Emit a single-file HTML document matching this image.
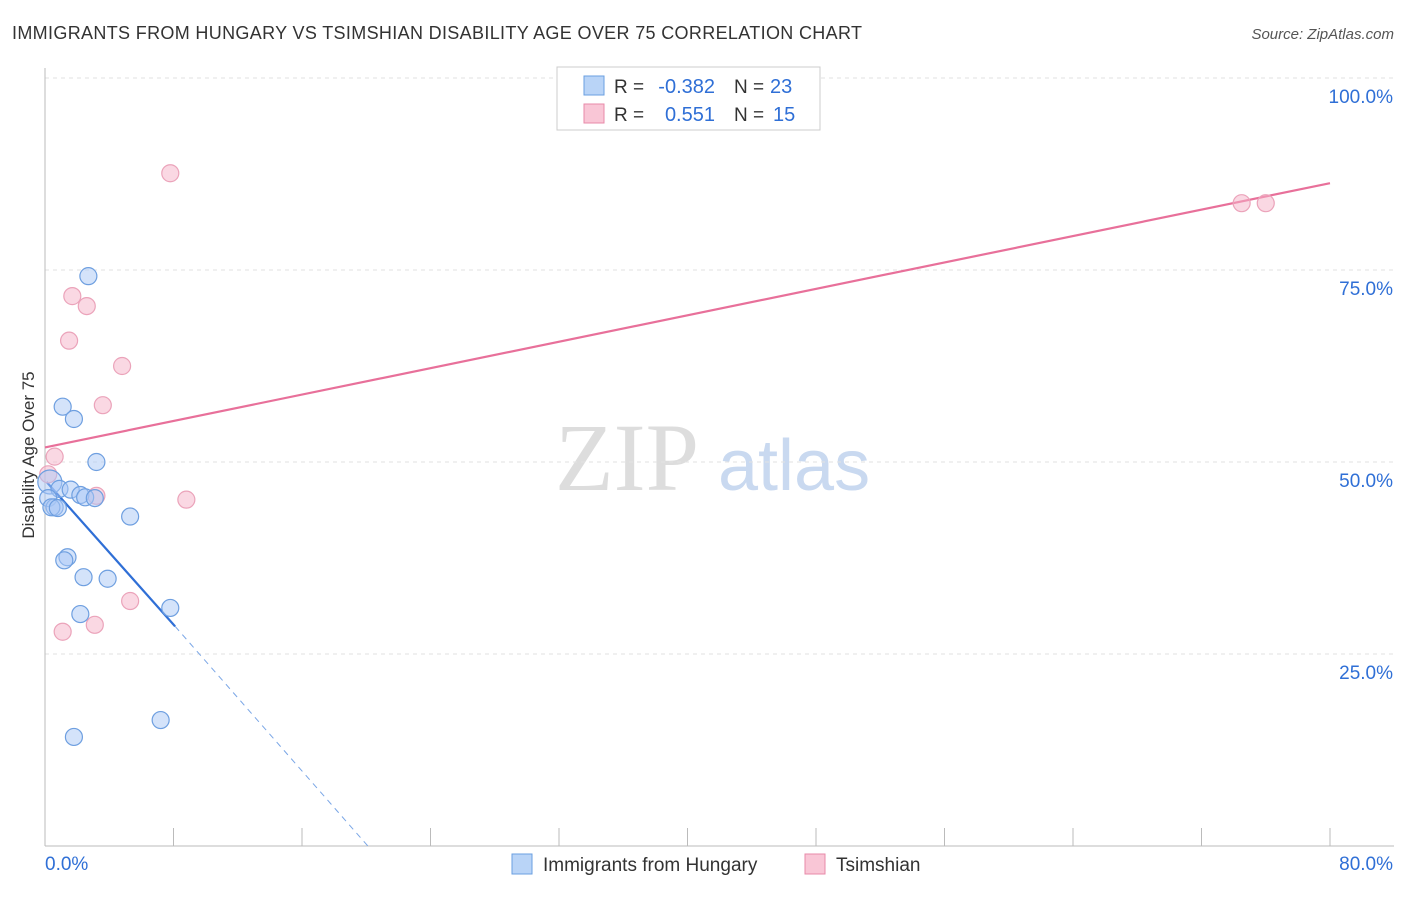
<!DOCTYPE html>
<html><head><meta charset="utf-8"><style>
body{margin:0;background:#fff;font-family:"Liberation Sans",sans-serif;}
</style></head><body>
<svg width="1406" height="892" viewBox="0 0 1406 892" xmlns="http://www.w3.org/2000/svg">
<text x="12" y="39" font-size="18" fill="#333" textLength="850">IMMIGRANTS FROM HUNGARY VS TSIMSHIAN DISABILITY AGE OVER 75 CORRELATION CHART</text>
<text x="1394" y="39" font-size="15" fill="#555" font-style="italic" text-anchor="end">Source: ZipAtlas.com</text>
<text x="34" y="455" font-size="17" fill="#333" text-anchor="middle" transform="rotate(-90 34 455)">Disability Age Over 75</text>
<text x="555" y="490" font-size="96" fill="#ddd" font-family="Liberation Serif,serif">ZIP</text>
<text x="718" y="490" font-size="72" fill="#c9d9f0">atlas</text>
<g id="grid"></g><g id="axes"></g><g id="lines"></g><g id="pts"></g>
<g>
<rect x="557" y="67" width="263" height="63" fill="#fff" stroke="#ccc"/>
<rect x="584" y="76" width="20" height="19" fill="#b9d4f7" stroke="#6a9fe0"/>
<rect x="584" y="104" width="20" height="19" fill="#f9c6d6" stroke="#e88aa8"/>
<text x="614" y="93" font-size="19" fill="#333">R =</text>
<text x="715" y="93" font-size="20" fill="#2f6fd6" text-anchor="end">-0.382</text>
<text x="734" y="93" font-size="19" fill="#333">N =</text>
<text x="770" y="93" font-size="20" fill="#2f6fd6">23</text>
<text x="614" y="121" font-size="19" fill="#333">R =</text>
<text x="715" y="121" font-size="20" fill="#2f6fd6" text-anchor="end">0.551</text>
<text x="734" y="121" font-size="19" fill="#333">N =</text>
<text x="773" y="121" font-size="20" fill="#2f6fd6">15</text>
</g>
<g>
<rect x="512" y="854" width="20" height="20" fill="#b9d4f7" stroke="#6a9fe0"/>
<text x="543" y="871" font-size="19" fill="#333">Immigrants from Hungary</text>
<rect x="805" y="854" width="20" height="20" fill="#f9c6d6" stroke="#e88aa8"/>
<text x="836" y="871" font-size="19" fill="#333">Tsimshian</text>
</g>
</svg>
<script>
const blueX=[2.7,1.1,1.8,3.2,0.3,0.9,1.6,2.2,2.5,3.1,0.2,0.6,0.4,0.8,5.3,1.4,1.2,2.4,3.9,2.2,7.8,7.2,1.8];
const blueY=[74.2,57.2,55.6,50.0,47.4,46.5,46.4,45.7,45.4,45.3,45.3,44.1,44.1,44.0,42.9,37.6,37.2,35.0,34.8,30.2,31.0,16.4,14.2];
const pinkX=[7.8,1.7,2.6,1.5,4.8,3.6,0.6,0.2,3.2,8.8,5.3,3.1,1.1,74.5,76.0];
const pinkY=[87.6,71.6,70.3,65.8,62.5,57.4,50.7,48.4,45.6,45.1,31.9,28.8,27.9,83.7,83.7];
const yTicks=[25,50,75,100];
const blueTrend=[[0.1,47.4],[8.1,28.6]], blueDash=[[8.1,28.6],[20.1,0]];
const pinkTrend=[[0,51.9],[80,86.3]];
const X=v=>45+v/80*1285, Y=v=>846-v/100*768;
const NS="http://www.w3.org/2000/svg";
function mk(tag,attrs,parent){const e=document.createElementNS(NS,tag);for(const k in attrs)e.setAttribute(k,attrs[k]);document.getElementById(parent).appendChild(e);return e;}
yTicks.forEach(t=>{
const g=mk('line',{x1:45,x2:1394,y1:Y(t),y2:Y(t),stroke:'#e2e2e2','stroke-dasharray':'4 4'},'grid');


const l=mk('text',{x:1393,y:Y(t)+25,'font-size':19,fill:'#2f6fd6','text-anchor':'end'},'axes');l.textContent=t.toFixed(1)+'%';


});
mk('line',{x1:45,x2:1394,y1:846,y2:846,stroke:'#bbb'},'axes');
mk('line',{x1:45,x2:45,y1:68,y2:846,stroke:'#bbb'},'axes');
for(let i=0;i<=10;i++){const t=mk('line',{x1:X(i*8),x2:X(i*8),y1:828,y2:846,stroke:'#bbb'},'axes');

}
const a=mk('text',{x:45,y:870,'font-size':19,fill:'#2f6fd6'},'axes');a.textContent='0.0%';


const b=mk('text',{x:1393,y:870,'font-size':19,fill:'#2f6fd6','text-anchor':'end'},'axes');b.textContent='80.0%';


function ln(p,stroke,w,dash,name){const e=mk('line',{x1:X(p[0][0]),y1:Y(p[0][1]),x2:X(p[1][0]),y2:Y(p[1][1]),stroke:stroke,'stroke-width':w},'lines');if(dash)e.setAttribute('stroke-dasharray',dash);

}
ln(pinkTrend,'#e8709a',2.2,null,'tsimshian-trend-line');
ln(blueTrend,'#2f6fd6',2.2,null,'hungary-trend-line');
ln(blueDash,'#7aa6e6',1,'6 5','hungary-trend-extension');
pinkX.forEach((x,i)=>{const c=mk('circle',{cx:X(x),cy:Y(pinkY[i]),r:8.5,fill:'rgba(246,178,200,0.5)',stroke:'#eba3ba','stroke-width':1.2},'pts');

});
blueX.forEach((x,i)=>{const c=mk('circle',{cx:X(x),cy:Y(blueY[i]),r:i==4?12:8.5,fill:'rgba(170,200,245,0.5)',stroke:'#6e9fe0','stroke-width':1.2},'pts');

});
</script>
</body></html>
